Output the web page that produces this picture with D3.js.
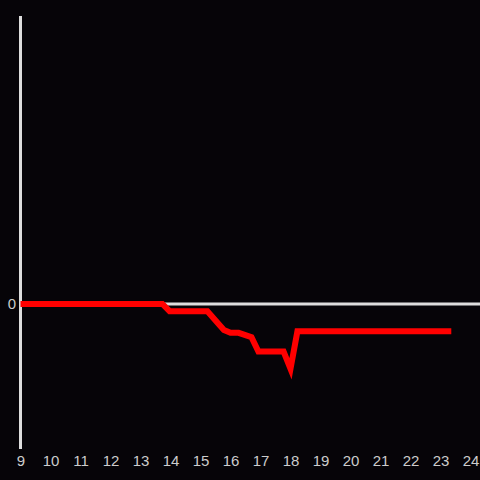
<!DOCTYPE html>
<html>
<head>
<meta charset="utf-8">
<script src="https://cdn.jsdelivr.net/npm/d3@7"></script>
<style>
html,body{margin:0;padding:0;background:#060408;}
svg{display:block;}
</style>
</head>
<body>
<script>
// Data (hours, value)
const hours = [9, 13.73, 13.97, 15.23, 15.78, 16.0, 16.27, 16.7, 16.93, 17.77, 18.0, 18.23, 23.36];
const values = [0, 0, -5, -5, -18, -20, -20, -23, -33, -33, -45, -19, -19];
const xTicks = [9,10,11,12,13,14,15,16,17,18,19,20,21,22,23,24];
const yTicks = [0];

const W = 480, H = 480;
const svg = d3.select("body").append("svg").attr("width", W).attr("height", H);
svg.append("rect").attr("width", W).attr("height", H).attr("fill", "#060408");

const x = d3.scaleLinear().domain([9, 24]).range([20.5, 470.5]);
const y = d3.scaleLinear().domain([-100, 200]).range([448, 16]);

// zero line
svg.append("line")
  .attr("x1", x(9)).attr("x2", W)
  .attr("y1", y(0)).attr("y2", y(0))
  .attr("stroke", "#dddddd").attr("stroke-width", 3);

// y axis line
svg.append("line")
  .attr("x1", x(9)).attr("x2", x(9))
  .attr("y1", 16).attr("y2", 449)
  .attr("stroke", "#dddddd").attr("stroke-width", 3);

// x axis labels
const gx = svg.append("g").attr("transform", `translate(0,449)`)
  .call(d3.axisBottom(x).tickValues(xTicks).tickSize(0).tickPadding(6).tickFormat(d3.format("d")));
gx.select(".domain").remove();
gx.selectAll("text").attr("fill", "#cccccc").style("font-family", "'Liberation Sans', Arial, sans-serif").style("font-size", "15px");

// y axis labels
const gy = svg.append("g").attr("transform", `translate(${x(9) - 0.5},0)`)
  .call(d3.axisLeft(y).tickValues(yTicks).tickSize(0).tickPadding(4).tickFormat(d3.format("d")));
gy.select(".domain").remove();
gy.selectAll("text").attr("fill", "#cccccc").style("font-family", "'Liberation Sans', Arial, sans-serif").style("font-size", "15px");

// red line
const data = hours.map((h, i) => [h, values[i]]);
svg.append("path")
  .datum(data)
  .attr("fill", "none")
  .attr("stroke", "#ff0000")
  .attr("stroke-width", 6)
  .attr("d", d3.line().x(d => x(d[0])).y(d => y(d[1])));
</script>
</body>
</html>
